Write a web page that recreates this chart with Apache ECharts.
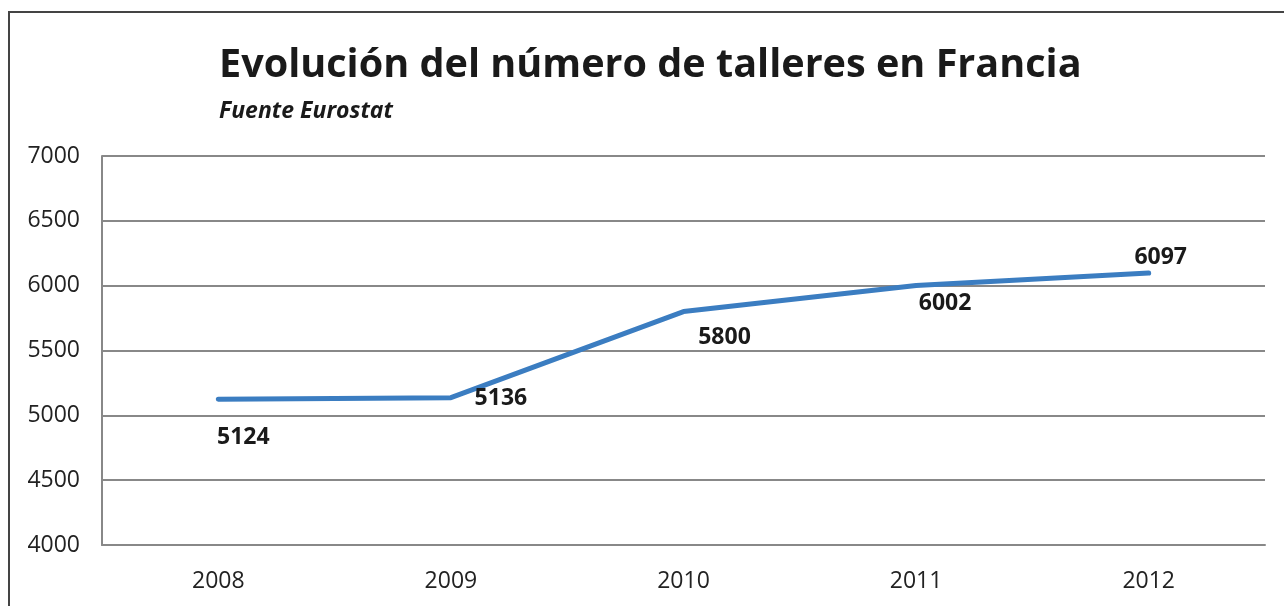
<!DOCTYPE html>
<html>
<head>
<meta charset="utf-8">
<script src="https://cdn.jsdelivr.net/npm/echarts@6/dist/echarts.min.js"></script>
<style>
  html, body { margin: 0; padding: 0; background: #fff; }
  #chart { width: 1284px; height: 606px; }
</style>
</head>
<body>
<div id="chart"></div>
<script>
// datos
const years = ['2008', '2009', '2010', '2011', '2012']
const talleres = [5124, 5136, 5800, 6002, 6097]
const yTicks = [4000, 4500, 5000, 5500, 6000, 6500, 7000]
// desplazamiento de cada etiqueta respecto al punto
const labelOffsets = [[25, 38], [50, 1], [41, 26], [29, 18], [12, -16]]

const myChart = echarts.init(document.getElementById('chart'))
const font = '"Open Sans", "Noto Sans", sans-serif'

const option = {
  animation: false,
  textStyle: { fontFamily: font },
  title: {
    text: 'Evolución del número de talleres en Francia',
    subtext: 'Fuente Eurostat',
    left: 214,
    top: 41,
    itemGap: 14,
    textStyle: { fontSize: 39.6, fontWeight: 'bold', color: '#1a1a1a', fontFamily: font },
    subtextStyle: { fontSize: 23, fontWeight: 'bold', fontStyle: 'italic', color: '#1a1a1a', fontFamily: font }
  },
  graphic: [
    {
      type: 'rect',
      shape: { x: 9, y: 12, width: 1300, height: 620 },
      style: { fill: 'none', stroke: '#444', lineWidth: 2 },
      silent: true
    }
  ],
  grid: { left: 102, right: 19, top: 156, bottom: 61 },
  xAxis: {
    type: 'category',
    data: years,
    boundaryGap: true,
    axisLine: { show: true, lineStyle: { color: '#888', width: 2 } },
    axisTick: { show: false },
    axisLabel: { fontSize: 23, color: '#222', margin: 25, fontFamily: font }
  },
  yAxis: {
    type: 'value',
    min: yTicks[0],
    max: yTicks[yTicks.length - 1],
    interval: 500,
    axisLine: { show: true, lineStyle: { color: '#888', width: 2 } },
    axisTick: { show: false },
    axisLabel: {
      fontSize: 23,
      color: '#222',
      margin: 22,
      fontFamily: font,
      formatter: v => String(v)
    },
    splitLine: { lineStyle: { color: '#888', width: 2 } }
  },
  series: [
    {
      type: 'line',
      data: talleres.map((v, i) => ({
        value: v,
        label: { offset: labelOffsets[i] }
      })),
      symbol: 'circle',
      symbolSize: 1,
      itemStyle: { color: 'rgba(59,125,193,0)', borderWidth: 0 },
      lineStyle: { color: '#3b7dc1', width: 5, cap: 'round', join: 'round' },
      label: {
        show: true,
        position: 'inside',
        fontSize: 23,
        fontWeight: 'bold',
        color: '#1a1a1a',
        fontFamily: font,
        formatter: p => String(p.value)
      }
    }
  ]
}

option && myChart.setOption(option)
window.addEventListener('resize', function () {
  myChart.resize()
})
</script>
</body>
</html>
